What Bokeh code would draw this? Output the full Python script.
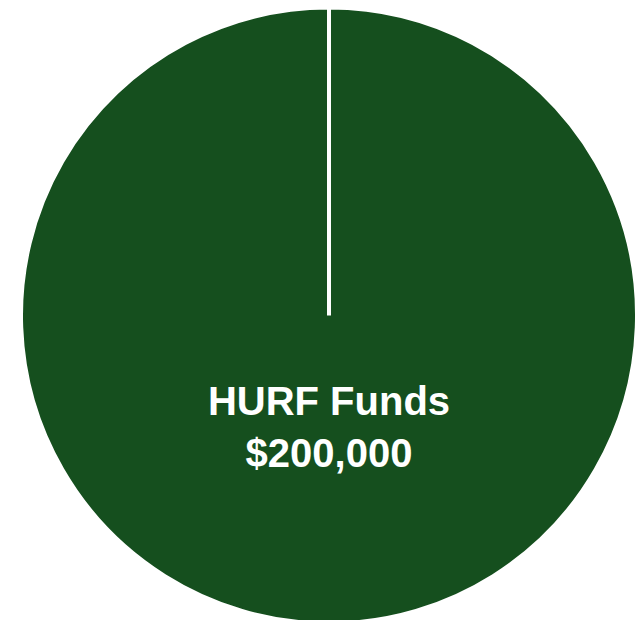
import numpy as np
from bokeh.plotting import figure
from bokeh.models import Range1d, ColumnDataSource
from bokeh.core.properties import value
from bokeh.embed import file_html
from bokeh.resources import INLINE

labels = ["HURF Funds"]
amounts = [200000]
colors = ["#154f1e"]

W, H = 638, 620
p = figure(width=W, height=H, output_backend="svg", toolbar_location=None,
           x_range=Range1d(0, W), y_range=Range1d(0, H), min_border=0)
p.axis.visible = False
p.grid.visible = False
p.outline_line_color = None
p.background_fill_color = "white"
p.border_fill_color = "white"

cx, cy, r = 328.5, 305.0, 308.0
total = float(sum(amounts))
fracs = np.array(amounts) / total
ends = np.pi / 2 - np.cumsum(fracs) * 2 * np.pi
starts = np.concatenate([[np.pi / 2], ends[:-1]])
ends_adj = np.where(np.isclose(ends % (2*np.pi), starts % (2*np.pi)), ends + 1e-6, ends)

src = ColumnDataSource(dict(start=ends_adj, end=starts, color=colors,
                            x=[cx]*len(labels), y=[cy]*len(labels)))
p.wedge(x="x", y="y", radius=r, start_angle="start", end_angle="end",
        fill_color="color", line_color="white", line_width=4, source=src)

lbl = ColumnDataSource(dict(x=[cx, cx], y=[cy - 85, cy - 137],
                            t=[labels[0], "${:,.0f}".format(amounts[0])]))
p.text(x="x", y="y", text="t", source=lbl, text_color="white",
       text_font=value("Liberation Sans"), text_font_style="bold",
       text_font_size="40px", text_align="center", text_baseline="alphabetic")

open("out.html", "w").write(file_html(p, INLINE))
